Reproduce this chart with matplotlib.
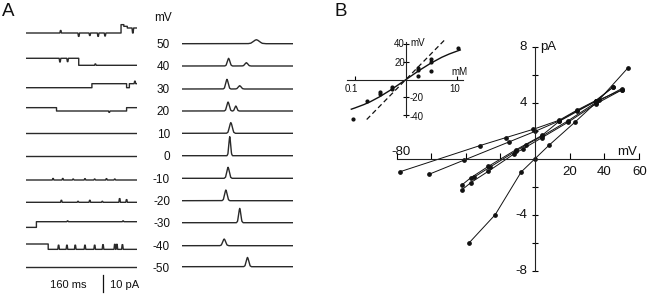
import numpy as np
import matplotlib.pyplot as plt

plt.rcParams['font.family'] = ['Liberation Sans', 'DejaVu Sans']

# ---------------- data: panel A ----------------
voltages = [50, 40, 30, 20, 10, 0, -10, -20, -30, -40, -50]

# single channel records: step times (ms), levels (pA, rel. closed), brief events (ms, pA)
trace_steps_t = [
    [0, 137, 141, 146],
    [0, 76],
    [0, 95, 145, 149],
    [0, 44, 145],
    [0], [0], [0], [0],
    [0, 15],
    [0, 32],
    [0],
]
trace_steps_v = [
    [0, 5, 4, 3],
    [4.2, 0],
    [0, 2.4, 0, 2.4],
    [2, 0, 2],
    [0], [0], [0], [0],
    [-3.4, 0],
    [0, -3.2],
    [0],
]
trace_events = [
    [(50, 1.5), (76, -2), (92, -1.5), (104, -2), (114, -1.8), (154, -3)],
    [(49, -2.2), (60, -2), (100, 0.8)],
    [(157, 1.5)],
    [(120, -0.8)],
    [],
    [],
    [(39, 0.9), (53, 0.9), (68, 0.6), (85, 0.8), (99, 0.6), (116, 0.8), (128, 0.6)],
    [(51, 1.2), (75, 0.6), (92, 1.2), (110, 0.6), (135, 2.2), (145, 1.6)],
    [(60, 0.5), (140, 0.5)],
    [(47, 2.5), (59, 2.5), (71, 2.5), (85, 2.5), (99, 2.5), (111, 2.8), (128, 3.0), (131, 3.0), (139, 2.8)],
    [],
]

# amplitude histograms: peak position (bin), height, half width
hist_pos = [[67], [42, 58], [40.5, 52], [41.5, 48.5], [44], [43], [41.5], [39.5], [52], [38], [59]]
hist_h = [[4], [7.7, 3.3], [9.7, 3.3], [9, 5], [10.7], [19], [11], [10.7], [14.3], [6.7, 3.3], [9.3]]
hist_w = [[8], [3.5, 4], [3.5, 4], [3.5, 3], [4], [2.5], [3.5], [3.5], [3], [4], [3.5]]

# ---------------- data: panel B (I-V) ----------------
iv_v = [
    [-38, -23, -8, 0, 8, 23, 37, 53.6],
    [-78, -32, -17, -1, 14, 24, 35, 45],
    [-61, -41, -15, 0, 14, 24, 35, 50],
    [-42, -37, -27, -12, -7, 4, 19, 35, 50],
    [-42, -37, -27, -11, 4, 14, 35, 45],
    [-35, -26, -11, -5, 4, 19, 35, 50],
]
iv_i = [
    [-6.0, -4.0, -0.95, 0, 0.95, 2.6, 4.2, 6.47],
    [-0.93, 0.93, 1.5, 2.1, 2.75, 3.45, 4.15, 5.1],
    [-1.1, -0.1, 1.2, 1.95, 2.7, 3.4, 4.1, 4.9],
    [-2.2, -1.7, -0.9, 0.35, 0.7, 1.5, 2.6, 3.9, 4.9],
    [-1.85, -1.35, -0.55, 0.64, 1.66, 2.67, 4.1, 5.1],
    [-1.3, -0.6, 0.55, 1.0, 1.6, 2.7, 4.0, 5.0],
]

# inset: reversal potential vs concentration
ins_c = [0.09, 0.17, 0.31, 0.31, 0.52, 0.52, 1.7, 1.7, 1.7, 3.1, 3.1, 3.1, 10.5]
ins_mv = [-44, -24, -14, -16, -8, -11, 13, 11, 4, 23, 20, 10, 35]
fit_c = [0.085, 0.1, 0.15, 0.2, 0.3, 0.5, 0.7, 1, 1.5, 2, 3, 5, 7, 10, 11.5]
fit_mv = [-33.4, -32, -28.2, -25, -19.6, -11.8, -6.1, 0, 7, 11.8, 18.1, 25, 28.7, 32, 33.2]
nernst_c = [0.17, 5.8]
nernst_mv = [-45, 45]

# ---------------- layout ----------------
W, H = 650, 297
fig = plt.figure(figsize=(6.5, 2.97), dpi=100)


def px_axes(x0, y0, x1, y1):
    ax = fig.add_axes([x0 / W, 1 - y1 / H, (x1 - x0) / W, (y1 - y0) / H])
    ax.patch.set_alpha(0)
    return ax


def ftext(x, y, s, size=8.5, ha='center', va='center'):
    fig.text(x / W, 1 - y / H, s, fontsize=size, ha=ha, va=va, color='#111')


def build_trace(st, sv, ev, t_end=160):
    def lvl(t):
        return sv[np.searchsorted(st, t, side='right') - 1]
    items = [(t, None) for t in st[1:]] + list(ev)
    items.sort(key=lambda p: p[0])
    xs, ys = [0.0], [sv[0]]
    for t, a in items:
        if a is None:
            xs += [t, t]
            ys += [lvl(t - 1e-6), lvl(t)]
        else:
            lv = lvl(t)
            xs += [t - 1.2, t - 0.4, t + 0.4, t + 1.2]
            ys += [lv, lv + a, lv + a, lv]
    xs.append(t_end)
    ys.append(sv[-1])
    return xs, ys


# --- A: traces ---
PX_PER_PA = 1.67
trace_base_px = [33, 65.3, 87.7, 111, 133.3, 155.7, 180, 202.3, 221.7, 244, 266.7]
ax_tr = px_axes(26, 10, 137, 280)
ax_tr.set_xlim(0, 160)
ax_tr.set_ylim(0, 270 / PX_PER_PA)
ax_tr.axis('off')
for k in range(len(voltages)):
    xs, ys = build_trace(trace_steps_t[k], trace_steps_v[k], trace_events[k])
    off = (280 - trace_base_px[k]) / PX_PER_PA
    ax_tr.plot(xs, np.array(ys) + off, color='#2a2a2a', lw=1.0)

# --- A: histograms ---
hist_base_px = [43.7, 66, 89, 111, 133.3, 155.7, 178.3, 200.7, 222.7, 245.7, 266.7]
ax_h = px_axes(182, 10, 293, 280)
ax_h.set_xlim(0, 100)
ax_h.set_ylim(0, 270)
ax_h.axis('off')
shape_u = [-1, -0.65, -0.4, -0.15, 0, 0.15, 0.4, 0.65, 1]
shape_v = [0, 0.1, 0.45, 0.88, 1, 0.88, 0.45, 0.1, 0]
xb = np.linspace(0, 100, 801)
for k in range(len(voltages)):
    yb = np.zeros_like(xb)
    for p, h, w in zip(hist_pos[k], hist_h[k], hist_w[k]):
        yb += h * np.interp((xb - p) / w, shape_u, shape_v)
    ax_h.plot(xb, yb + 280 - hist_base_px[k], color='#2a2a2a', lw=1.0)

# voltage labels
ftext(163, 18, 'mV')
for k, v in enumerate(voltages):
    ftext(170, 45 + 22.43 * k, str(v), ha='right')

# scale bar
ftext(68.5, 285, '160 ms', size=8)
fig.add_artist(plt.Line2D([103.3 / W, 103.3 / W], [1 - 275 / H, 1 - 291.7 / H], color='#111', lw=0.9))
ftext(110, 285, '10 pA', size=8, ha='left')

ftext(8.5, 12, 'A', size=13.5)
ftext(341, 12, 'B', size=13.5)

# --- B: main I-V ---
ax = px_axes(396.6, 46.7, 638.8, 270.7)
ax.set_xlim(-80, 60)
ax.set_ylim(-8, 8)
for s in ['top', 'right']:
    ax.spines[s].set_visible(False)
ax.spines['left'].set_position(('data', 0))
ax.spines['bottom'].set_position(('data', 0))
for s in ['left', 'bottom']:
    ax.spines[s].set_linewidth(0.8)
    ax.spines[s].set_color('#222')
ax.set_xticks([-80, -60, -40, -20, 20, 40, 60])
ax.set_yticks([-8, -6, -4, -2, 2, 4, 6, 8])
ax.tick_params(axis='x', direction='in', length=4, width=0.8, labelbottom=False)
ax.tick_params(axis='y', direction='inout', length=5, width=0.8, labelleft=False)
for v, i in zip(iv_v, iv_i):
    ax.plot(v, i, '-o', color='#111', lw=0.7, ms=2.4, clip_on=False)

for lab, x in [('20', 570), ('40', 604), ('60', 639.5)]:
    ftext(x, 171.7, lab, size=9.5)
ftext(401, 151.7, '-80', size=9.5)
ftext(627.5, 151.7, 'mV', size=9.5)
for lab, y in [('8', 47), ('4', 102.7), ('-4', 215), ('-8', 270.5)]:
    ftext(527, y, lab, size=9.5, ha='right')
ftext(540.5, 46.7, 'pA', size=9.5, ha='left')

# --- B: inset ---
ax_in = px_axes(347, 39.5, 463, 119.5)
ax_in.set_xscale('log')
ax_in.set_xlim(0.07, 13.0)
ax_in.set_ylim(-45, 45)
for s in ['top', 'right']:
    ax_in.spines[s].set_visible(False)
ax_in.spines['left'].set_position(('data', 1))
ax_in.spines['bottom'].set_position(('data', 0))
ax_in.spines['left'].set_bounds(-42, 42)
for s in ['left', 'bottom']:
    ax_in.spines[s].set_linewidth(0.8)
    ax_in.spines[s].set_color('#222')
ax_in.set_xticks([0.1, 10])
ax_in.xaxis.set_minor_locator(plt.NullLocator())
ax_in.set_yticks([-40, -20, 20, 40])
ax_in.tick_params(axis='x', direction='in', length=3, width=0.8, labelbottom=False)
ax_in.tick_params(axis='y', direction='inout', length=4, width=0.8, labelleft=False)
ax_in.plot(fit_c, fit_mv, color='#111', lw=1.0)
ax_in.plot(nernst_c, nernst_mv, color='#111', lw=0.9, dashes=(4, 2.5))
ax_in.plot(ins_c, ins_mv, 'o', color='#111', ms=2.0, clip_on=False)

ftext(405, 44, '40', size=7, ha='right')
ftext(405, 62.7, '20', size=7, ha='right')
ftext(410, 97.7, '-20', size=7, ha='left')
ftext(410, 116.5, '-40', size=7, ha='left')
ftext(410.5, 42.7, 'mV', size=7, ha='left')
ftext(459, 72, 'mM', size=7)
ftext(351.7, 89.3, '0.1', size=7)
ftext(455, 89.3, '10', size=7)

fig.savefig('out.png', dpi=100)
